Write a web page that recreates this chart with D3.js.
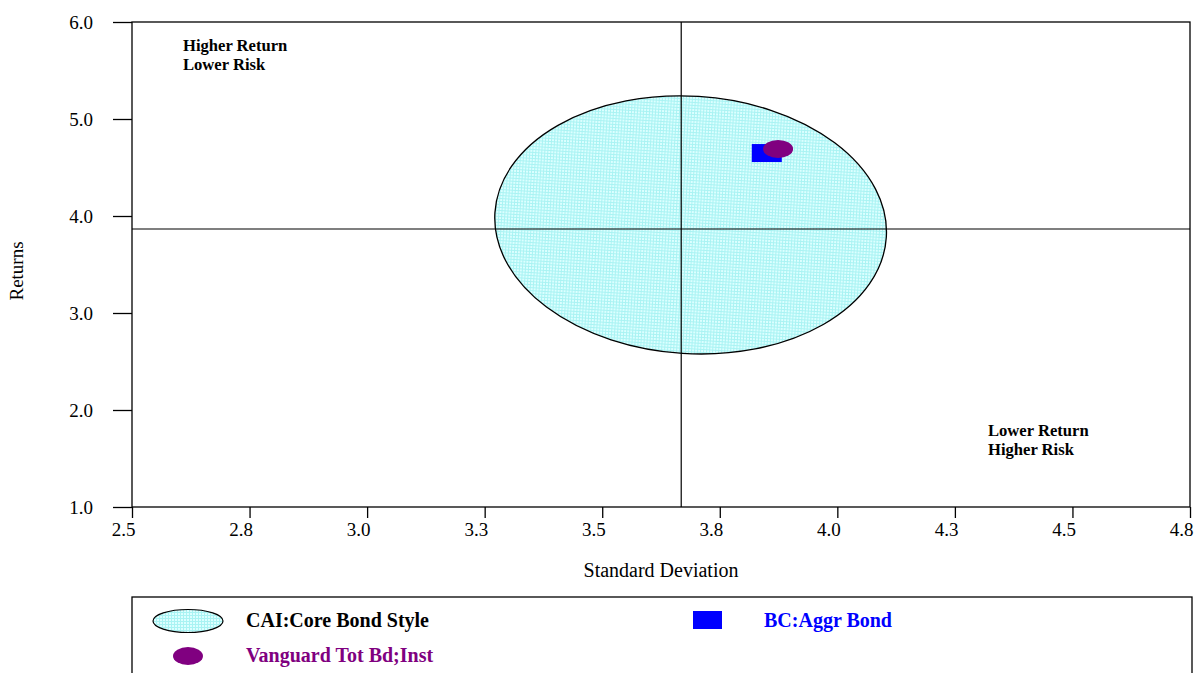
<!DOCTYPE html>
<html>
<head>
<meta charset="utf-8">
<script src="https://cdn.jsdelivr.net/npm/d3@7"></script>
<style>
  html, body { margin: 0; padding: 0; background: #fff; }
  svg { display: block; font-family: "Liberation Serif", "Times New Roman", serif; }
</style>
</head>
<body>
<svg id="chart" width="1198" height="673"></svg>
<script>
// ---- data ----
const xTickValues = [2.5, 2.75, 3.0, 3.25, 3.5, 3.75, 4.0, 4.25, 4.5, 4.75];
const xTickLabels = ["2.5", "2.8", "3.0", "3.3", "3.5", "3.8", "4.0", "4.3", "4.5", "4.8"];
const yTickValues = [1, 2, 3, 4, 5, 6];
const yTickLabels = ["1.0", "2.0", "3.0", "4.0", "5.0", "6.0"];
const xDomain = [2.5, 4.75];
const yDomain = [1, 6];

// style group ellipse: center (std dev, return), semi-axes (std dev, return), tilt in degrees
const styleEllipseCenter = [3.688, 3.908];
const styleEllipseRadii = [0.417, 1.327];
const styleEllipseTilt = 3.6;

// medians (crosshair)
const medianStdDev = 3.668;
const medianReturn = 3.866;

// points
const benchmarkName = "BC:Aggr Bond";
const benchmarkPoint = [3.850, 4.649];
const fundName = "Vanguard Tot Bd;Inst";
const fundPoint = [3.874, 4.691];
const styleName = "CAI:Core Bond Style";

const quadrantTopLeft = ["Higher Return", "Lower Risk"];
const quadrantBottomRight = ["Lower Return", "Higher Risk"];

// ---- chart ----
(function () {
const svg = d3.select("#chart");
const pL = 132, pR = 1190, pT = 22, pB = 507;

const x = d3.scaleLinear().domain(xDomain).range([pL, pR]);
const y = d3.scaleLinear().domain(yDomain).range([pB, pT]);

const defs = svg.append("defs");
const pat = defs.append("pattern").attr("id", "cyanGrid")
  .attr("width", 3).attr("height", 3).attr("patternUnits", "userSpaceOnUse");
pat.append("rect").attr("width", 3).attr("height", 3).attr("fill", "#dcffff");
pat.append("rect").attr("width", 3).attr("height", 1).attr("fill", "#a9f3f3");
pat.append("rect").attr("width", 1).attr("height", 3).attr("fill", "#a9f3f3");

// style ellipse
const ecx = x(styleEllipseCenter[0]), ecy = y(styleEllipseCenter[1]);
svg.append("ellipse")
  .attr("cx", ecx).attr("cy", ecy)
  .attr("rx", x(styleEllipseCenter[0] + styleEllipseRadii[0]) - ecx)
  .attr("ry", ecy - y(styleEllipseCenter[1] + styleEllipseRadii[1]))
  .attr("transform", `rotate(${styleEllipseTilt} ${ecx} ${ecy})`)
  .attr("fill", "url(#cyanGrid)")
  .attr("stroke", "#000").attr("stroke-width", 1.3);

// crosshair
svg.append("line").attr("x1", x(medianStdDev)).attr("x2", x(medianStdDev))
  .attr("y1", pT).attr("y2", pB).attr("stroke", "#000").attr("stroke-width", 1.2);
svg.append("line").attr("x1", pL).attr("x2", pR)
  .attr("y1", y(medianReturn)).attr("y2", y(medianReturn)).attr("stroke", "#000").attr("stroke-width", 1.2);

// benchmark square
svg.append("rect")
  .attr("x", x(benchmarkPoint[0]) - 15).attr("y", y(benchmarkPoint[1]) - 9)
  .attr("width", 30).attr("height", 18).attr("fill", "#0000ff");
// fund ellipse
svg.append("ellipse")
  .attr("cx", x(fundPoint[0])).attr("cy", y(fundPoint[1]))
  .attr("rx", 15).attr("ry", 9).attr("fill", "#800080");

// frame
svg.append("rect").attr("x", pL).attr("y", pT)
  .attr("width", pR - pL).attr("height", pB - pT)
  .attr("fill", "none").attr("stroke", "#000").attr("stroke-width", 1.3);

// axes
const xAxis = svg.append("g").attr("transform", `translate(0,${pB})`)
  .call(d3.axisBottom(x).tickValues(xTickValues).tickSize(11).tickSizeOuter(0)
    .tickFormat((d, i) => xTickLabels[i]));
xAxis.select(".domain").remove();
xAxis.selectAll("line").attr("stroke-width", 1.3);
xAxis.selectAll("text").attr("font-size", 19).attr("fill", "#000")
  .attr("font-family", "Liberation Serif")
  .attr("text-anchor", "end").attr("dx", 3).attr("y", 16);

const yAxis = svg.append("g").attr("transform", `translate(${pL},0)`)
  .call(d3.axisLeft(y).tickValues(yTickValues).tickSize(19).tickSizeOuter(0)
    .tickFormat((d, i) => yTickLabels[i]));
yAxis.select(".domain").remove();
yAxis.selectAll("line").attr("stroke-width", 1.3);
yAxis.selectAll("text").attr("font-size", 19).attr("fill", "#000")
  .attr("font-family", "Liberation Serif").attr("x", -39);

// axis titles
svg.append("text").attr("x", (pL + pR) / 2).attr("y", 577)
  .attr("text-anchor", "middle").attr("font-size", 20).text("Standard Deviation");
svg.append("text").attr("transform", "translate(23,271) rotate(-90)")
  .attr("text-anchor", "middle").attr("font-size", 19).text("Returns");

// quadrant labels
const q1 = svg.append("text").attr("font-size", 16.6).attr("font-weight", "bold");
quadrantTopLeft.forEach((t, i) => q1.append("tspan").attr("x", 183).attr("y", 51 + i * 19).text(t));
const q2 = svg.append("text").attr("font-size", 16.6).attr("font-weight", "bold");
quadrantBottomRight.forEach((t, i) => q2.append("tspan").attr("x", 988).attr("y", 436 + i * 19).text(t));

// legend
svg.append("rect").attr("x", 132).attr("y", 597).attr("width", 1060).attr("height", 120)
  .attr("fill", "none").attr("stroke", "#000").attr("stroke-width", 1.3);
svg.append("ellipse").attr("cx", 188).attr("cy", 621).attr("rx", 35).attr("ry", 11.5)
  .attr("fill", "url(#cyanGrid)").attr("stroke", "#000").attr("stroke-width", 1.2);
svg.append("text").attr("x", 246).attr("y", 627).attr("font-size", 20).attr("font-weight", "bold")
  .attr("fill", "#000").text(styleName);
svg.append("rect").attr("x", 693).attr("y", 611).attr("width", 29).attr("height", 18).attr("fill", "#0000ff");
svg.append("text").attr("x", 764).attr("y", 627).attr("font-size", 20).attr("font-weight", "bold")
  .attr("fill", "#0000ff").text(benchmarkName);
svg.append("ellipse").attr("cx", 188).attr("cy", 656).attr("rx", 15).attr("ry", 9).attr("fill", "#800080");
svg.append("text").attr("x", 246).attr("y", 662).attr("font-size", 20).attr("font-weight", "bold")
  .attr("fill", "#800080").text(fundName);
})();
</script>
</body>
</html>
